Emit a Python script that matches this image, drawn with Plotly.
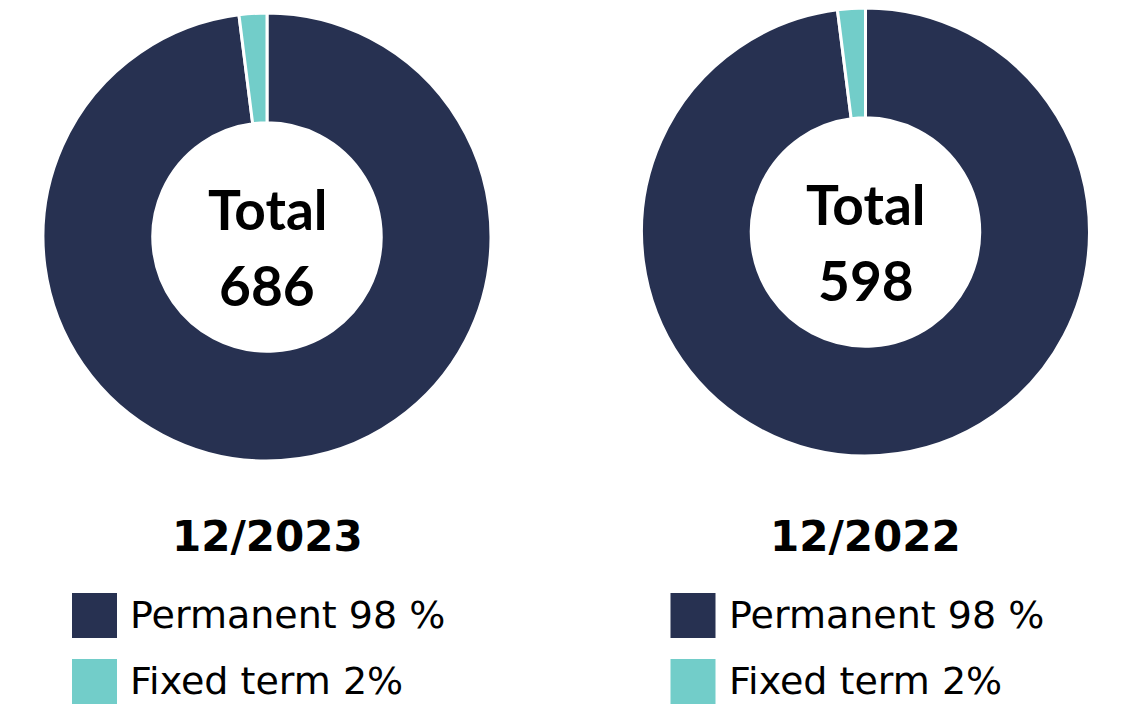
import plotly.graph_objects as go

W, H = 1128, 707

categories = ["Permanent", "Fixed term"]
values_2023 = [98, 2]
values_2022 = [98, 2]
totals = [686, 598]
period_labels = ["12/2023", "12/2022"]
legend_labels = ["Permanent 98 %", "Fixed term 2%"]

NAVY = "#273151"
TEAL = "#72CDC9"
colors = [NAVY, TEAL]
FONT = "Lato"
LEG_FONT = "DejaVu Sans"

def px_x(x):
    return x / W

def px_y(y):
    return 1 - y / H

fig = go.Figure()

donuts = [
    # (values, center x, center y, radius)
    (values_2023, 267, 237, 224),
    (values_2022, 865.5, 232, 224),
]

for vals, cx, cy, r in donuts:
    fig.add_trace(go.Pie(
        labels=categories,
        values=vals,
        hole=0.51,
        sort=False,
        direction="clockwise",
        rotation=0,
        marker=dict(colors=colors, line=dict(color="white", width=3)),
        textinfo="none",
        hoverinfo="label+percent",
        showlegend=False,
        domain=dict(x=[px_x(cx - r), px_x(cx + r)], y=[px_y(cy + r), px_y(cy - r)]),
    ))

annotations = []
shapes = []
for i, (vals, cx, cy, r) in enumerate(donuts):
    annotations.append(dict(
        x=px_x(cx), y=px_y(cy - 28), xref="paper", yref="paper",
        text="<b>Total</b>", showarrow=False, xanchor="center", yanchor="middle",
        font=dict(family=FONT, size=55, color="black"),
    ))
    annotations.append(dict(
        x=px_x(cx), y=px_y(cy + 48), xref="paper", yref="paper",
        text="<b>%d</b>" % totals[i], showarrow=False, xanchor="center", yanchor="middle",
        font=dict(family=FONT, size=55, color="black"),
    ))
    annotations.append(dict(
        x=px_x(cx), y=px_y(536), xref="paper", yref="paper",
        text="<b>%s</b>" % period_labels[i], showarrow=False, xanchor="center", yanchor="middle",
        font=dict(family=LEG_FONT, size=42, color="black"),
    ))
    lx = cx - 195
    for j, (lab, col) in enumerate(zip(legend_labels, [NAVY, TEAL])):
        ytop = 593 + j * 66
        shapes.append(dict(
            type="rect", xref="paper", yref="paper",
            x0=px_x(lx), x1=px_x(lx + 45), y0=px_y(ytop + 45), y1=px_y(ytop),
            fillcolor=col, line=dict(width=0),
        ))
        annotations.append(dict(
            x=px_x(lx + 56), y=px_y(ytop + 22), xref="paper", yref="paper",
            text=lab, showarrow=False, xanchor="left", yanchor="middle",
            font=dict(family=LEG_FONT, size=38, color="black"),
        ))

fig.update_layout(
    width=W, height=H,
    margin=dict(l=0, r=0, t=0, b=0),
    paper_bgcolor="white", plot_bgcolor="white",
    annotations=annotations, shapes=shapes,
    showlegend=False,
)

fig.write_html(
    "out.html",
    config={"displayModeBar": False},
    post_script="document.body.style.margin='0';document.body.style.overflow='hidden';",
)
